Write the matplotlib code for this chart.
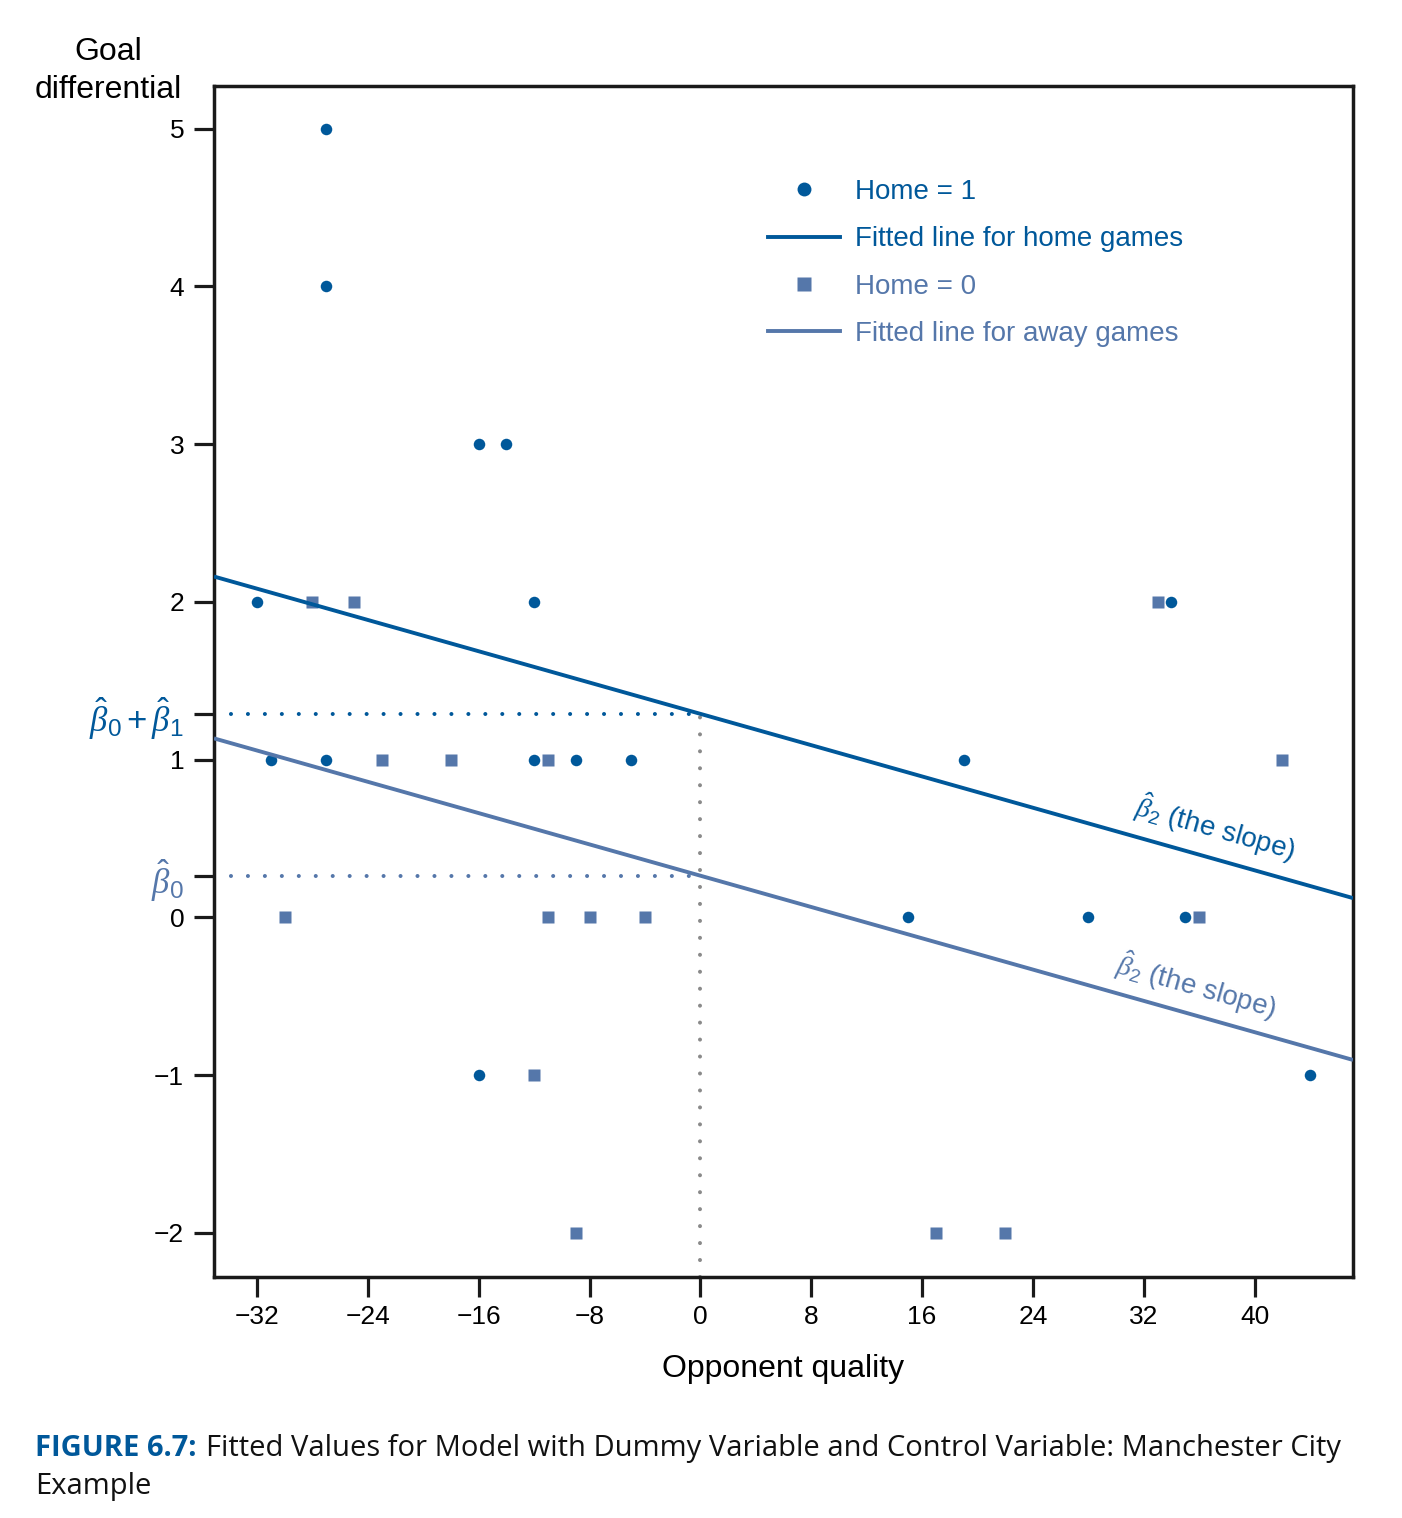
import matplotlib
matplotlib.use("Agg")
import matplotlib.pyplot as plt
from matplotlib.lines import Line2D
import numpy as np

# ---------------- data ----------------
home_x = [-27, -27, -16, -14, -32, -12, 34, -31, -27, -12, -9, -5, 19, 15, 28, 35, -16, 44]
home_y = [5, 4, 3, 3, 2, 2, 2, 1, 1, 1, 1, 1, 1, 0, 0, 0, -1, -1]
away_x = [-28, -25, 33, -23, -18, -11, 42, -30, -11, -8, -4, 36, -12, -9, 17, 22]
away_y = [2, 2, 2, 1, 1, 1, 1, 0, 0, 0, 0, 0, -1, -2, -2, -2]

b0 = 0.264          # intercept for away games
b1 = 1.026          # home dummy coefficient
b2 = -0.0248        # slope on opponent quality

x_ticks = [-32, -24, -16, -8, 0, 8, 16, 24, 32, 40]
y_ticks = [-2, -1, 0, 1, 2, 3, 4, 5]
legend_labels = ["Home = 1", "Fitted line for home games", "Home = 0", "Fitted line for away games"]
x_label = "Opponent quality"
y_label = "Goal\ndifferential"
caption_bold = "FIGURE 6.7:"
caption_rest = "Fitted Values for Model with Dummy Variable and Control Variable: Manchester City"
caption_line2 = "Example"

# ---------------- style ----------------
HOME = "#00589A"
AWAY = "#5577AA"
GRAY = "#8A8A8A"
plt.rcParams["font.family"] = ["Liberation Sans", "DejaVu Sans"]
plt.rcParams["mathtext.fontset"] = "custom"
plt.rcParams["mathtext.rm"] = "Liberation Sans"
plt.rcParams["mathtext.it"] = "Liberation Serif:italic"
plt.rcParams["mathtext.bf"] = "Liberation Sans:bold"

W, H = 1402, 1518
fig = plt.figure(figsize=(W / 100, H / 100), dpi=100)
L, R, T, B = 214, 1353, 86, 1277
ax = fig.add_axes([L / W, 1 - B / H, (R - L) / W, (B - T) / H])

xmin, xmax = -35.1, 47.1
ymin, ymax = -2.28, 5.27
ax.set_xlim(xmin, xmax)
ax.set_ylim(ymin, ymax)

# scatter points
ax.plot(home_x, home_y, "o", color=HOME, ms=8.3, mec="none", zorder=2)
ax.plot(away_x, away_y, "s", color=AWAY, ms=8, mec="none", zorder=2)

# fitted lines
xs = np.array([xmin, xmax])
ax.plot(xs, b0 + b1 + b2 * xs, color=HOME, lw=2.8, zorder=3, solid_capstyle="butt")
ax.plot(xs, b0 + b2 * xs, color=AWAY, lw=2.8, zorder=3, solid_capstyle="butt")

# dotted guides
dot = dict(lw=2.9, dashes=(0.01, 4.2), dash_capstyle="round", zorder=1)
ax.plot([xmin, 0], [b0 + b1, b0 + b1], color=HOME, **dot)
ax.plot([xmin, 0], [b0, b0], color=AWAY, **dot)
ax.plot([0, 0], [ymin, b0 + b1], color=GRAY, **dot)

# slope annotations
ang = np.degrees(np.arctan(b2))
xh = 37.2
ax.text(xh, b0 + b1 + b2 * xh + 0.2, r"$\hat{\beta}_2$ (the slope)", color=HOME,
        fontsize=20, rotation=ang, transform_rotates_text=True,
        rotation_mode="anchor", ha="center", va="center")
xa = 35.8
ax.text(xa, b0 + b2 * xa + 0.19, r"$\hat{\beta}_2$ (the slope)", color=AWAY,
        fontsize=20, rotation=ang, transform_rotates_text=True,
        rotation_mode="anchor", ha="center", va="center")

# axes styling
for s in ax.spines.values():
    s.set_linewidth(2.5)
    s.set_color("#1a1a1a")
ax.set_xticks(x_ticks)
ax.set_xticklabels([("\u2212" + str(-v)) if v < 0 else str(v) for v in x_ticks])
yt = y_ticks + [b0, b0 + b1]
ytl = [("\u2212" + str(-v)) if v < 0 else str(v) for v in y_ticks] + \
      [r"$\hat{\beta}_0$", r"$\hat{\beta}_0+\hat{\beta}_1$"]
ax.set_yticks(yt)
ax.set_yticklabels(ytl)
ax.tick_params(axis="both", direction="out", length=14.5, width=2.3, color="#1a1a1a",
               labelsize=19, pad=6)
ax.tick_params(axis="y", pad=7)
ylabels = ax.get_yticklabels()
ylabels[-2].set_color(AWAY)
ylabels[-1].set_color(HOME)
ylabels[-2].set_fontsize(25)
ylabels[-1].set_fontsize(25)
majors = ax.yaxis.get_major_ticks()
majors[-2].tick1line.set_color(AWAY)
majors[-1].tick1line.set_color(HOME)

# legend
handles = [
    Line2D([], [], ls="none", marker="o", ms=10, color=HOME, mec="none"),
    Line2D([], [], color=HOME, lw=2.8),
    Line2D([], [], ls="none", marker="s", ms=10, color=AWAY, mec="none"),
    Line2D([], [], color=AWAY, lw=2.8),
]
leg = ax.legend(handles, legend_labels, loc="upper left",
                bbox_to_anchor=((768 - L) / (R - L), (B - 179) / (B - T)),
                frameon=False, fontsize=20, handlelength=2.6, handletextpad=0.55,
                labelspacing=0.77, borderpad=0, borderaxespad=0,
                labelcolor=[HOME, HOME, AWAY, AWAY])

# axis labels
fig.text((L + R) / 2 / W, 1 - 1369 / H, x_label, fontsize=23, ha="center", va="center")
fig.text(108 / W, 1 - 71 / H, y_label, fontsize=23, ha="center", va="center",
         linespacing=1.38)

# caption
cap_font = ["Open Sans", "DejaVu Sans"]
cap_size = 21
t1 = fig.text(35 / W, 1 - 1456 / H, caption_bold, fontsize=cap_size, color=HOME,
              fontweight="bold", family=cap_font, ha="left", va="baseline")
fig.canvas.draw()
bb = t1.get_window_extent()
t2 = fig.text((bb.x1 + 10) / W, 1 - 1456 / H, caption_rest, fontsize=cap_size, color="#111111",
              family=cap_font, ha="left", va="baseline")
fig.text(35 / W, 1 - 1494 / H, caption_line2, fontsize=cap_size, color="#111111",
         family=cap_font, ha="left", va="baseline")

fig.savefig("out.png", dpi=100)
